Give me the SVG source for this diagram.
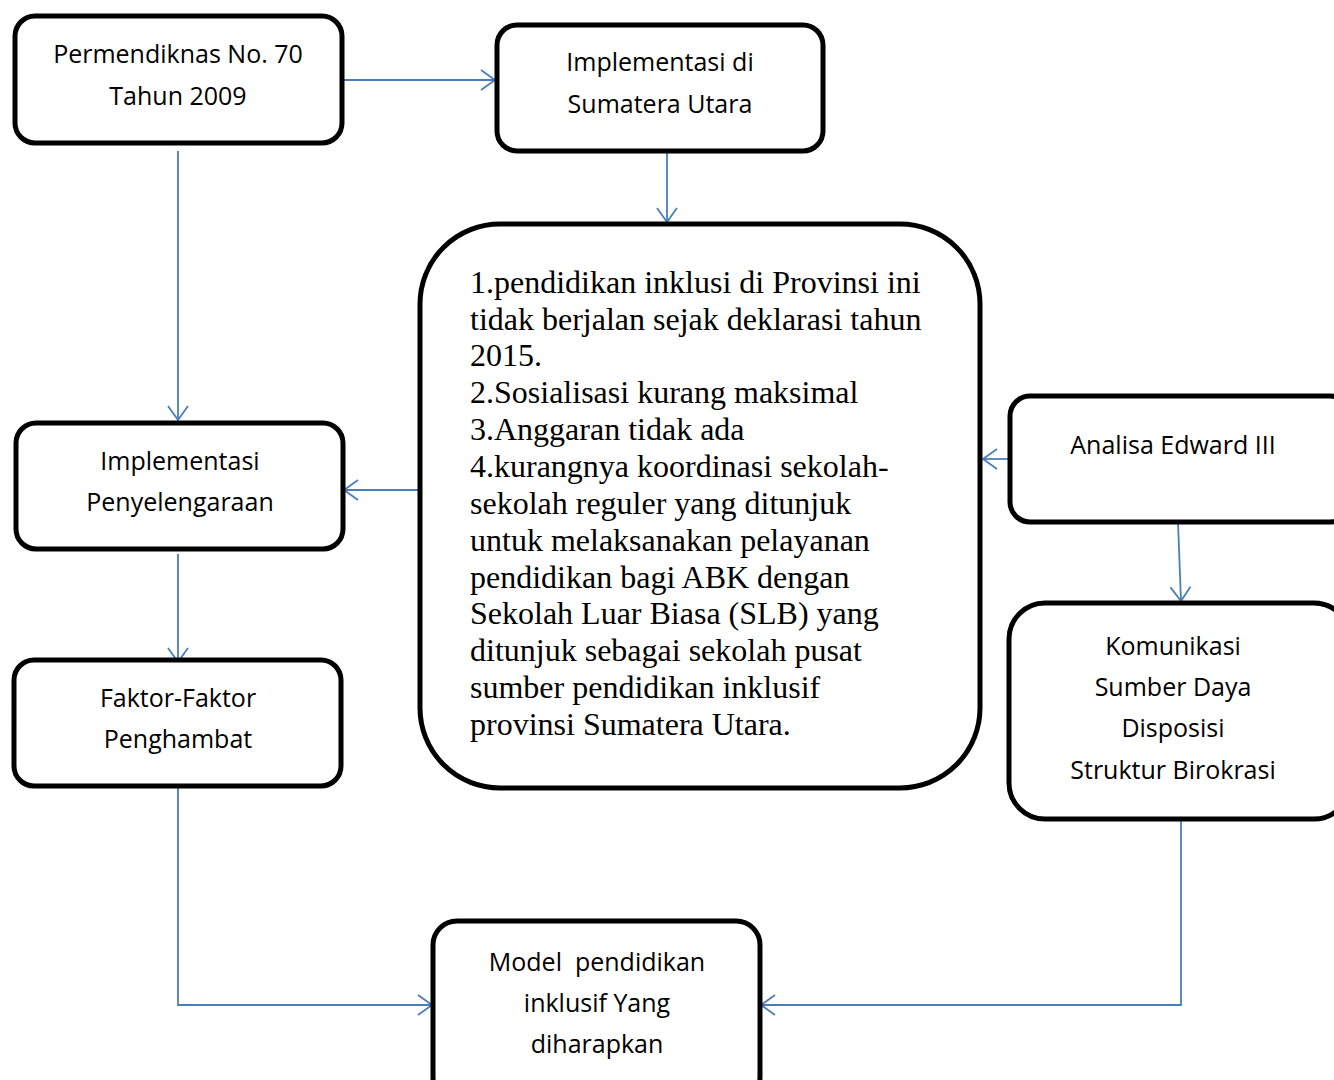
<svg xmlns="http://www.w3.org/2000/svg" width="1334" height="1080" viewBox="0 0 1334 1080">
<defs>
<marker id="arr" markerWidth="18" markerHeight="22" refX="15" refY="11" orient="auto" markerUnits="userSpaceOnUse">
<path d="M1,1 L15,11 L1,21" fill="none" stroke="#4a7ebb" stroke-width="1.8"/>
</marker>
<style>
.box{fill:#fff;stroke:#000;stroke-width:5}
.t{font-family:"Open Sans","Liberation Sans",sans-serif;font-size:25px;fill:#000;text-anchor:middle}
.s{font-family:"Liberation Serif","Times New Roman",serif;font-size:32px;fill:#000}
.c{fill:none;stroke:#4a7ebb;stroke-width:1.8;marker-end:url(#arr)}
</style>
</defs>
<rect width="1334" height="1080" fill="#fff"/>
<g id="connectors">
<path class="c" d="M342,80 H495"/>
<path class="c" d="M178,151 V420"/>
<path class="c" d="M667,151 V222"/>
<path class="c" d="M420,490 H344"/>
<path class="c" d="M1010,459 H983"/>
<path class="c" d="M1178,522 L1181,601"/>
<path class="c" d="M178,554 V662"/>
<path class="c" d="M178,788 V1005 H432"/>
<path class="c" d="M1181,819 V1005 H761"/>
</g>
<g id="n1">
<rect class="box" x="15" y="16" width="327" height="127" rx="20"/>
<text class="t" x="178" y="63">Permendiknas No. 70</text>
<text class="t" x="178" y="105">Tahun 2009</text>
</g>
<g id="n2">
<rect class="box" x="497" y="25" width="326" height="126" rx="20"/>
<text class="t" x="660" y="71">Implementasi di</text>
<text class="t" x="660" y="113">Sumatera Utara</text>
</g>
<g id="n3">
<rect class="box" x="420" y="224" width="560" height="564" rx="80"/>
<text class="s" x="470" y="293">1.pendidikan inklusi di Provinsi ini</text>
<text class="s" x="470" y="330">tidak berjalan sejak deklarasi tahun</text>
<text class="s" x="470" y="366">2015.</text>
<text class="s" x="470" y="403">2.Sosialisasi kurang maksimal</text>
<text class="s" x="470" y="440">3.Anggaran tidak ada</text>
<text class="s" x="470" y="477">4.kurangnya koordinasi sekolah-</text>
<text class="s" x="470" y="514">sekolah reguler yang ditunjuk</text>
<text class="s" x="470" y="551">untuk melaksanakan pelayanan</text>
<text class="s" x="470" y="588">pendidikan bagi ABK dengan</text>
<text class="s" x="470" y="624">Sekolah Luar Biasa (SLB) yang</text>
<text class="s" x="470" y="661">ditunjuk sebagai sekolah pusat</text>
<text class="s" x="470" y="698">sumber pendidikan inklusif</text>
<text class="s" x="470" y="735">provinsi Sumatera Utara.</text>
</g>
<g id="n4">
<rect class="box" x="16" y="423" width="327" height="126" rx="20"/>
<text class="t" x="180" y="470">Implementasi</text>
<text class="t" x="180" y="511">Penyelengaraan</text>
</g>
<g id="n5">
<rect class="box" x="14" y="660" width="327" height="126" rx="20"/>
<text class="t" x="178" y="707">Faktor-Faktor</text>
<text class="t" x="178" y="748">Penghambat</text>
</g>
<g id="n6">
<rect class="box" x="1010" y="396" width="340" height="126" rx="20"/>
<text class="t" x="1173" y="454">Analisa Edward III</text>
</g>
<g id="n7">
<rect class="box" x="1009" y="603" width="341" height="216" rx="36"/>
<text class="t" x="1173" y="655">Komunikasi</text>
<text class="t" x="1173" y="696">Sumber Daya</text>
<text class="t" x="1173" y="737">Disposisi</text>
<text class="t" x="1173" y="779">Struktur Birokrasi</text>
</g>
<g id="n8">
<rect class="box" x="433" y="921" width="327" height="180" rx="24"/>
<text class="t" x="597" y="971" xml:space="preserve">Model  pendidikan</text>
<text class="t" x="597" y="1012">inklusif Yang</text>
<text class="t" x="597" y="1053">diharapkan</text>
</g>
</svg>
